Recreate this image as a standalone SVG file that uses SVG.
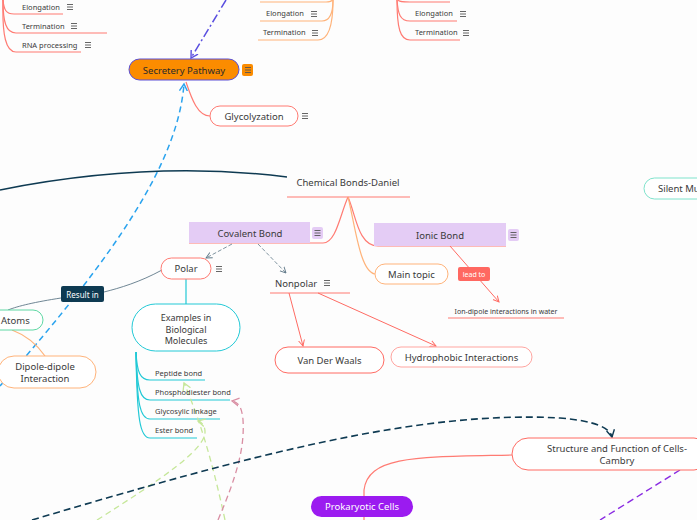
<svg xmlns="http://www.w3.org/2000/svg" width="697" height="520" viewBox="0 0 697 520">
<defs>
<style>
text{font-family:"Noto Sans","Liberation Sans",sans-serif;fill:#3a3a3a}
.t10{font-size:9.5px}
.t9{font-size:9px}
.t8{font-size:7.5px}
.c{text-anchor:middle}
.red{fill:none;stroke:#ff7b73;stroke-width:1.2}
.ora{fill:none;stroke:#ffb37a;stroke-width:1.2}
.teal{fill:none;stroke:#22c9d6;stroke-width:1.2}
</style>
<symbol id="ham" viewBox="0 0 8 8"><path d="M1,1.5H7M1,4H7M1,6.5H7" stroke="#555" stroke-width="0.9"/></symbol>
<marker id="arR" markerWidth="8" markerHeight="8" refX="6" refY="4" orient="auto" markerUnits="userSpaceOnUse"><path d="M0,1 L6,4 L0,7" fill="none" stroke="#ff6b63" stroke-width="1"/></marker>
<marker id="arB" markerWidth="10" markerHeight="10" refX="7" refY="5" orient="auto" markerUnits="userSpaceOnUse"><path d="M0,1 L7,5 L0,9" fill="none" stroke="#2aa3ee" stroke-width="1.4"/></marker>
<marker id="arP" markerWidth="10" markerHeight="10" refX="7" refY="5" orient="auto" markerUnits="userSpaceOnUse"><path d="M0,1 L7,5 L0,9" fill="none" stroke="#5a4fe0" stroke-width="1.4"/></marker>
<marker id="arN" markerWidth="10" markerHeight="10" refX="7" refY="5" orient="auto" markerUnits="userSpaceOnUse"><path d="M0,1 L7,5 L0,9" fill="none" stroke="#0e3a52" stroke-width="1.4"/></marker>
<marker id="arG" markerWidth="10" markerHeight="10" refX="7" refY="5" orient="auto" markerUnits="userSpaceOnUse"><path d="M0,1 L7,5 L0,9" fill="none" stroke="#c6e79a" stroke-width="1.3"/></marker>
<marker id="arK" markerWidth="10" markerHeight="10" refX="7" refY="5" orient="auto" markerUnits="userSpaceOnUse"><path d="M0,1 L7,5 L0,9" fill="none" stroke="#d98ea3" stroke-width="1.3"/></marker>
<marker id="arS" markerWidth="8" markerHeight="8" refX="6" refY="4" orient="auto" markerUnits="userSpaceOnUse"><path d="M0,1 L6,4 L0,7" fill="none" stroke="#5f7888" stroke-width="0.9"/></marker>
</defs>
<rect width="697" height="520" fill="#fdfdfd"/>

<g id="connectors">
  <path class="red" d="M3,0 C4,10 6,14 14,14 H63"/>
  <path class="red" d="M3,0 C3,22 6,33 16,33 H107"/>
  <path class="red" d="M3,0 C2,36 6,52 16,52 H81"/>
  <path class="ora" d="M260,2 H326 C331,2 333,0 333,-2"/>
  <path class="ora" d="M260,21 H322 C330,21 333,12 333,0"/>
  <path class="ora" d="M258,40 H318 C330,40 333,20 333,0"/>
  <path class="red" d="M398,0 C399,2 402,2 410,2 H450"/>
  <path class="red" d="M397,0 C398,14 400,21 410,21 H457"/>
  <path class="red" d="M397,0 C397,28 400,40 410,40 H460"/>
  <path class="red" d="M186,82 C192,100 198,116 210,116"/>
  <path d="M226,0 L191,58" fill="none" stroke="#5a4fe0" stroke-width="1.5" stroke-dasharray="9,3,2,3" marker-end="url(#arP)"/>
  <path d="M0,386 C120,250 178,160 184,84" fill="none" stroke="#2aa3ee" stroke-width="1.5" stroke-dasharray="6,4" marker-end="url(#arB)"/>
  <path d="M0,190 Q150,160 287,177" fill="none" stroke="#0e3a52" stroke-width="1.5"/>
  <path class="red" d="M287,197 H410"/>
  <path class="red" d="M348,197 C340,215 336,243 323,243 H189"/>
  <path class="red" d="M348,197 C356,215 358,246 378,246 H506"/>
  <path class="ora" d="M348,197 C355,225 360,272 375,274"/>
  <path d="M232,244 L206,258" fill="none" stroke="#5f7888" stroke-width="0.8" stroke-dasharray="4,2" marker-end="url(#arS)"/>
  <path d="M258,244 L286,273" fill="none" stroke="#5f7888" stroke-width="0.8" stroke-dasharray="4,2" marker-end="url(#arS)"/>
  <path class="red" d="M270,293 H350"/>
  <path d="M289,293 L303,346" fill="none" stroke="#ff6b63" stroke-width="1" marker-end="url(#arR)"/>
  <path d="M318,293 L436,346" fill="none" stroke="#ff6b63" stroke-width="1" marker-end="url(#arR)"/>
  <path d="M450,246 L499,302" fill="none" stroke="#ff6b63" stroke-width="1" marker-end="url(#arR)"/>
  <path class="red" d="M448,318 H564"/>
  <path class="teal" d="M186,279 V304"/>
  <path class="teal" d="M136,352 C137,372 140,380 150,380 H205"/>
  <path class="teal" d="M136,352 C137,388 140,400 150,400 H230"/>
  <path class="teal" d="M136,352 C137,404 140,419 150,419 H220"/>
  <path class="teal" d="M136,352 C137,420 140,438 150,438 H197"/>
  <path d="M162,270 C140,282 120,288 104,292" fill="none" stroke="#5f7888" stroke-width="0.9"/>
  <path d="M61,298 C35,302 18,306 8,310" fill="none" stroke="#5f7888" stroke-width="0.9"/>
  <path class="ora" d="M12,330 C28,336 38,346 45,356"/>
  <path d="M225,520 C212,460 200,420 184,383" fill="none" stroke="#c6e79a" stroke-width="1.3" stroke-dasharray="6,4" marker-end="url(#arG)"/>
  <path d="M97,520 C160,480 205,450 205,432 C205,426 202,422 198,421" fill="none" stroke="#c6e79a" stroke-width="1.3" stroke-dasharray="6,4" marker-end="url(#arG)"/>
  <path d="M218,520 C235,480 245,450 243,420 C242,407 238,402 232,401" fill="none" stroke="#d98ea3" stroke-width="1.3" stroke-dasharray="6,4" marker-end="url(#arK)"/>
  <path d="M32,520 C250,455 420,410 560,418 C596,421 610,428 612,437" fill="none" stroke="#0e3a52" stroke-width="1.6" stroke-dasharray="7,4" marker-end="url(#arN)"/>
  <path class="red" d="M512,455 C420,457 368,455 364,490 V520"/>
  <path d="M680,470 L600,520" fill="none" stroke="#8a2be2" stroke-width="1.4" stroke-dasharray="7,4"/>
</g>

<g id="n-elong-l"><text class="t8" x="22" y="10">Elongation</text><use href="#ham" x="66" y="3" width="8" height="8"/></g>
<g id="n-term-l"><text class="t8" x="22" y="29">Termination</text><use href="#ham" x="70" y="22" width="8" height="8"/></g>
<g id="n-rna-l"><text class="t8" x="22" y="48">RNA processing</text><use href="#ham" x="84" y="41" width="8" height="8"/></g>

<g id="n-elong-m"><text class="t8" x="266" y="16">Elongation</text><use href="#ham" x="310" y="10" width="8" height="8"/></g>
<g id="n-term-m"><text class="t8" x="263" y="35">Termination</text><use href="#ham" x="311" y="29" width="8" height="8"/></g>

<g id="n-elong-r"><text class="t8" x="415" y="16">Elongation</text><use href="#ham" x="459" y="10" width="8" height="8"/></g>
<g id="n-term-r"><text class="t8" x="415" y="35">Termination</text><use href="#ham" x="462" y="29" width="8" height="8"/></g>

<g id="n-secretery">
  <rect x="129" y="59" width="110" height="21" rx="10.5" fill="#fb8c00" stroke="#5a4fd6" stroke-width="1"/>
  <text class="t10 c" x="184" y="73.5" style="fill:#2a2a2a">Secretery Pathway</text>
  <rect x="242" y="64" width="11" height="12" rx="2" fill="#fb8c00"/>
  <use href="#ham" x="244" y="66" width="8" height="8"/>
</g>

<g id="n-glyco">
  <rect x="210" y="106" width="88" height="20" rx="10" fill="#fff" stroke="#ff7b73" stroke-width="1"/>
  <text class="t10 c" x="254" y="120">Glycolyzation</text>
  <use href="#ham" x="301" y="112" width="8" height="8"/>
</g>

<g id="n-chem">
  <text class="t10 c" x="348" y="186">Chemical Bonds-Daniel</text>
</g>

<g id="n-covalent">
  <rect x="189" y="222" width="121" height="21" fill="#e4ccf5"/>
  <text class="t10 c" x="250" y="236.5">Covalent Bond</text>
  <rect x="312" y="227" width="11" height="12" rx="2" fill="#e4ccf5"/>
  <use href="#ham" x="313.5" y="229" width="8" height="8"/>
</g>

<g id="n-ionic">
  <rect x="374" y="223" width="132" height="23" fill="#e4ccf5"/>
  <text class="t10 c" x="440" y="238.5">Ionic Bond</text>
  <rect x="508" y="229" width="11" height="12" rx="2" fill="#e4ccf5"/>
  <use href="#ham" x="509.5" y="231" width="8" height="8"/>
</g>

<g id="n-main">
  <rect x="375" y="264" width="73" height="20" rx="10" fill="#fff" stroke="#ffb37a" stroke-width="1"/>
  <text class="t10 c" x="411.5" y="277.5">Main topic</text>
</g>

<g id="n-leadto">
  <rect x="458" y="267" width="32" height="14" rx="2" fill="#ff6861"/>
  <text class="c" x="474" y="277" style="font-size:7px;fill:#fff">lead to</text>
</g>

<g id="n-iondipole">
  <text class="c" x="506" y="314" style="font-size:7px">Ion-dipole interactions in water</text>
</g>

<g id="n-silent">
  <rect x="644" y="178" width="80" height="21" rx="10.5" fill="#fff" stroke="#7fe3cc" stroke-width="1"/>
  <text class="t10" x="658" y="192">Silent Mu</text>
</g>

<g id="n-polar">
  <rect x="161" y="258" width="50" height="21" rx="10.5" fill="#fff" stroke="#ff7b73" stroke-width="1"/>
  <text class="t10 c" x="186" y="272">Polar</text>
  <use href="#ham" x="215" y="265" width="8" height="8"/>
</g>

<g id="n-nonpolar">
  <text class="t10" x="275" y="286.5">Nonpolar</text>
  <use href="#ham" x="323" y="279" width="8" height="8"/>
</g>

<g id="n-vdw">
  <rect x="275" y="347" width="109" height="26" rx="13" fill="#fff" stroke="#ff6b63" stroke-width="1"/>
  <text class="t10 c" x="329.5" y="363.5">Van Der Waals</text>
</g>

<g id="n-hydro">
  <rect x="391" y="347" width="141" height="20" rx="10" fill="#fff" stroke="#ffa5a0" stroke-width="1"/>
  <text class="t10 c" x="461.5" y="360.5">Hydrophobic Interactions</text>
</g>

<g id="n-examples">
  <rect x="132" y="304" width="108" height="47" rx="23.5" fill="#fff" stroke="#22c9d6" stroke-width="1"/>
  <text class="t9 c" x="186" y="321">Examples in</text>
  <text class="t9 c" x="186" y="332.5">Biological</text>
  <text class="t9 c" x="186" y="344">Molecules</text>
</g>

<g id="n-peptide"><text class="t8" x="155" y="376">Peptide bond</text></g>
<g id="n-phospho"><text class="t8" x="155" y="395">Phosphodiester bond</text></g>
<g id="n-glycos"><text class="t8" x="155" y="414">Glycosylic linkage</text></g>
<g id="n-ester"><text class="t8" x="155" y="433">Ester bond</text></g>

<g id="n-resultin">
  <rect x="61" y="286" width="43" height="16" rx="2" fill="#0e3a52"/>
  <text class="c" x="82.5" y="297.5" style="font-size:8px;fill:#fff">Result in</text>
</g>

<g id="n-atoms">
  <rect x="-12" y="310" width="55" height="20" rx="10" fill="#fff" stroke="#5fd8a4" stroke-width="1"/>
  <text class="t10" x="1" y="323.5">Atoms</text>
</g>

<g id="n-dipole">
  <rect x="-2" y="356" width="98" height="32" rx="16" fill="#fff" stroke="#ffb37a" stroke-width="1"/>
  <text class="t10 c" x="45" y="370">Dipole-dipole</text>
  <text class="t10 c" x="45" y="382">Interaction</text>
</g>

<g id="n-structure">
  <rect x="512" y="438" width="198" height="32" rx="16" fill="#fff" stroke="#ff6b63" stroke-width="1"/>
  <text class="t10 c" x="617" y="452">Structure and Function of Cells-</text>
  <text class="t10 c" x="617" y="464">Cambry</text>
</g>

<g id="n-prok">
  <rect x="311" y="496" width="102" height="21" rx="10.5" fill="#9b1bf0"/>
  <text class="t10 c" x="362" y="510" style="fill:#fff">Prokaryotic Cells</text>
</g>
</svg>
